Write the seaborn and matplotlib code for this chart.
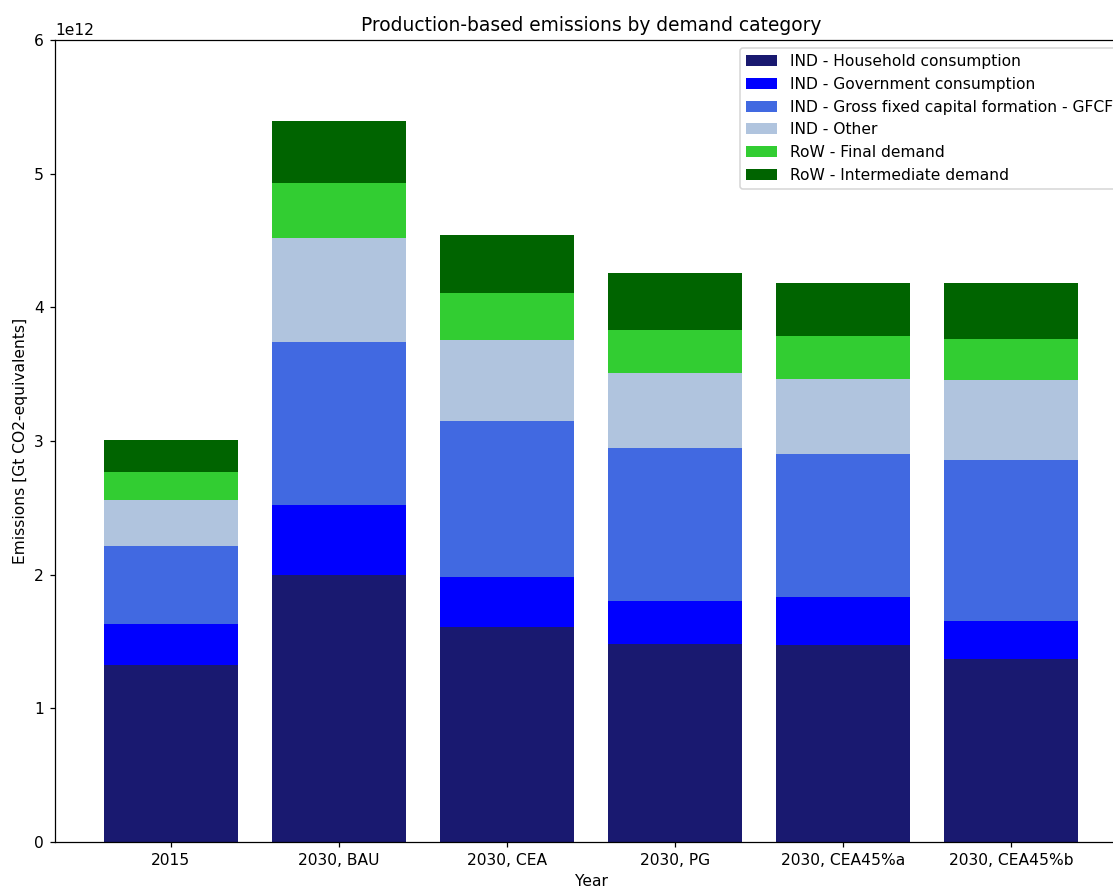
import numpy as np
import matplotlib
matplotlib.use("Agg")
import matplotlib.pyplot as plt
import seaborn as sns

# ── Data (emissions, t CO2-eq) ──────────────────────────────────────────────
scenarios = ["2015", "2030, BAU", "2030, CEA", "2030, PG", "2030, CEA45%a", "2030, CEA45%b"]

household   = [1.324e12, 1.995e12, 1.606e12, 1.479e12, 1.476e12, 1.369e12]
government  = [0.307e12, 0.528e12, 0.377e12, 0.326e12, 0.354e12, 0.284e12]
gfcf        = [0.583e12, 1.218e12, 1.164e12, 1.143e12, 1.070e12, 1.205e12]
ind_other   = [0.342e12, 0.781e12, 0.611e12, 0.558e12, 0.566e12, 0.598e12]
row_final   = [0.210e12, 0.406e12, 0.349e12, 0.327e12, 0.317e12, 0.307e12]
row_inter   = [0.241e12, 0.466e12, 0.434e12, 0.426e12, 0.401e12, 0.419e12]

layer_names = [
    "IND - Household consumption",
    "IND - Government consumption",
    "IND - Gross fixed capital formation - GFCF",
    "IND - Other",
    "RoW - Final demand",
    "RoW - Intermediate demand",
]
layers = [household, government, gfcf, ind_other, row_final, row_inter]
colors = ["midnightblue", "blue", "royalblue", "lightsteelblue", "limegreen", "darkgreen"]

# ── Plot ────────────────────────────────────────────────────────────────────
DPI = 112
fig = plt.figure(figsize=(1113 / DPI, 889 / DPI), dpi=DPI)
# axes run slightly past the right edge, like the cropped original
ax = fig.add_axes([55 / 1113, 47 / 889, 1072 / 1113, 802 / 889])

bottom = np.zeros(len(scenarios))
for name, vals, col in zip(layer_names, layers, colors):
    sns.barplot(x=scenarios, y=vals, bottom=bottom, color=col, label=name,
                saturation=1, errorbar=None, width=0.8, ax=ax)
    bottom = bottom + np.array(vals)

ax.set_xlim(-0.69, 5.69)
ax.set_ylim(0, 6e12)
ax.set_title("Production-based emissions by demand category", fontsize=12)
ax.set_xlabel("Year")
ax.set_ylabel("Emissions [Gt CO2-equivalents]")
ax.legend(loc="upper right")

fig.savefig("out.png", dpi=DPI)
